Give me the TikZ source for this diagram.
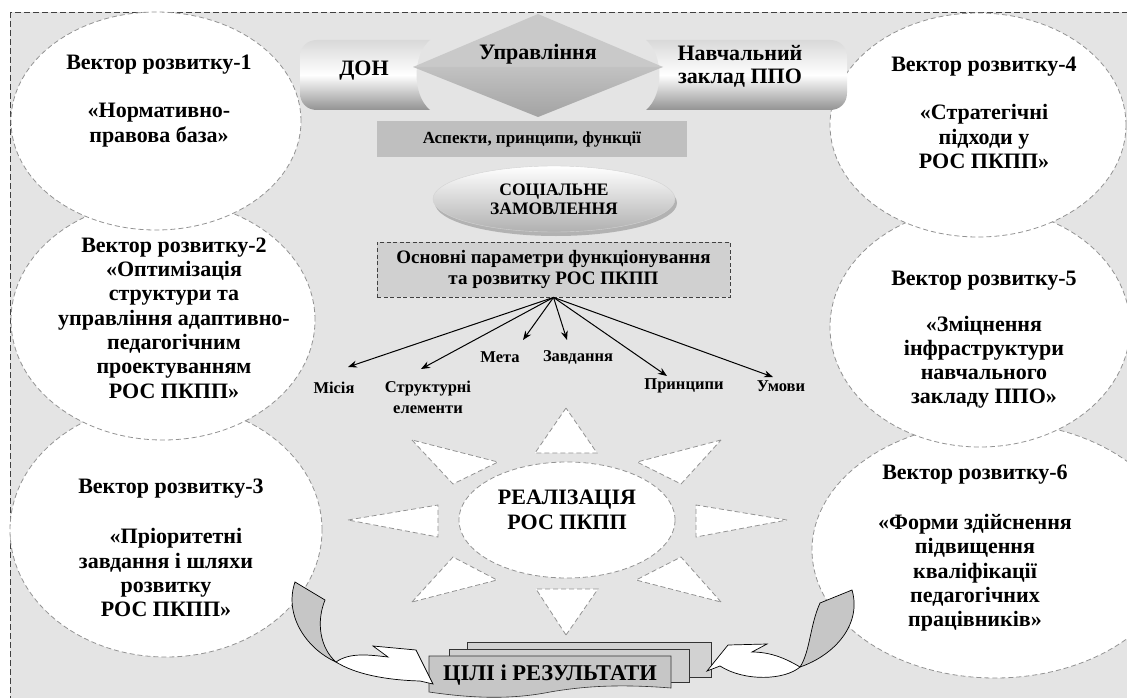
\documentclass[tikz,border=0pt]{standalone}
\usepackage{fontspec}
\setmainfont{Liberation Serif}
\usetikzlibrary{shapes.geometric,arrows.meta}
\definecolor{bg}{HTML}{E4E4E4}
\begin{document}
\begin{tikzpicture}[x=1pt,y=-1pt,
  vec/.style={ellipse, draw=gray!85, fill=white, line width=0.8pt, dash pattern=on 5pt off 3pt, inner sep=0pt},
  vtxt/.style={font=\fontsize{22}{24.3}\selectfont\bfseries, align=center, inner sep=0pt},
  btxt/.style={font=\fontsize{22}{23}\selectfont\bfseries, align=center, inner sep=0pt},
  lbl/.style={font=\fontsize{16.5}{21}\selectfont\bfseries, align=center, inner sep=0pt},
  arr/.style={-{Stealth[length=9pt,width=7pt]}, line width=1pt, black},
  tri/.style={draw=gray!85, fill=white, line width=0.8pt, dash pattern=on 5pt off 3pt},
  docst/.style={draw=black!80, line width=0.6pt},
  ribbon/.style={draw=black, line width=0.7pt, fill=white},
  curl/.style={draw=black, line width=0.7pt, fill=gray!45},
  pill/.style={top color=gray!30, bottom color=gray!85, middle color=white}
]
\useasboundingbox (0,0) rectangle (1127,698);
\clip (0,0) rectangle (1127,698);
% frame
\draw[fill=bg, draw=black!75, line width=0.8pt, dash pattern=on 6pt off 3pt] (10,12) rectangle (1140,710);

% vector ellipses
\node[vec, minimum width=312pt, minimum height=254pt] (e3) at (166,530) {};
\node[vec, minimum width=304pt, minimum height=240pt] (e2) at (163,320) {};
\node[vec, minimum width=290pt, minimum height=218pt] (e1) at (156,121) {};
\node[vec, minimum width=366pt, minimum height=256pt] (e6) at (995,550) {};
\node[vec, minimum width=300pt, minimum height=240pt] (e5) at (980,327) {};
\node[vec, minimum width=296pt, minimum height=224pt] (e4) at (978,125) {};

\node[vtxt] (t1) at (159,101) {Вектор розвитку-1\\[24pt]«Нормативно-\\правова база»};
\node[vtxt] (t2) at (174,318) {Вектор розвитку-2\\«Оптимізація\\структури та\\управління адаптивно-\\педагогічним\\проектуванням\\РОС ПКПП»};
\node[vtxt] (t3) at (166,548) {\hspace*{10pt}Вектор розвитку-3\\[26pt]\hspace*{20pt}«Пріоритетні\\завдання і шляхи\hspace*{14pt}\\розвитку\hspace*{26pt}\\РОС ПКПП»};
\node[vtxt] (t4) at (984,113) {Вектор розвитку-4\\[24pt]«Стратегічні\\підходи у\\РОС ПКПП»};
\node[vtxt] (t5) at (984,340) {Вектор розвитку-5\\[21pt]«Зміцнення\\інфраструктури\\навчального\\закладу ППО»};
\node[vtxt] (t6) at (975,548) {Вектор розвитку-6\\[26pt]«Форми здійснення\\підвищення\\кваліфікації\\педагогічних\\працівників»};

% top banner
\shade[pill] (430,40) -- (317,40) .. controls (307,40) and (300,47) .. (300,57) -- (300,93) .. controls (300,103) and (307,110) .. (317,110) -- (430,110) .. controls (412,95) and (412,55) .. (430,40) -- cycle;
\shade[pill] (646,40) -- (830,40) .. controls (840,40) and (847,47) .. (847,57) -- (847,93) .. controls (847,103) and (840,110) .. (830,110) -- (646,110) .. controls (664,95) and (664,55) .. (646,40) -- cycle;
\fill[gray!42] (413,67) -- (538,14) -- (663,67) -- cycle;
\shade[top color=gray!48, bottom color=gray!72] (413,67) -- (663,67) -- (538,117) -- cycle;
\node[btxt] (don) at (364,71) {ДОН};
\node[btxt] (upr) at (538,54) {Управління};
\node[btxt] (nzp) at (740,66) {Навчальний\\заклад ППО};

\node[fill=gray!50, minimum width=310pt, minimum height=36pt, inner sep=0pt, font=\fontsize{17}{20}\selectfont\bfseries] (asp) at (532,139) {Аспекти, принципи, функції};

% social order
\fill[gray!60] (556,203) ellipse [x radius=121, y radius=33];
\node[ellipse, minimum width=242pt, minimum height=66pt, inner sep=0pt, draw=gray!35, top color=white, bottom color=gray!62, align=center, font=\fontsize{17.5}{19}\selectfont\bfseries] (soc) at (554,199) {СОЦІАЛЬНЕ\\ЗАМОВЛЕННЯ};

% parameters
\node[draw=black!75, dash pattern=on 4pt off 2.5pt, line width=0.8pt, fill=gray!37, minimum width=353pt, minimum height=55pt, inner sep=0pt, align=center, font=\fontsize{19}{21}\selectfont\bfseries] (par) at (553.5,269.5) {Основні параметри функціонування\\та розвитку РОС ПКПП};

\coordinate (am) at (348,367);
\coordinate (as) at (421,369);
\coordinate (amt) at (523,340);
\coordinate (az) at (567,340);
\coordinate (ap) at (667,376);
\coordinate (au) at (773,377);
\foreach \t in {am,as,amt,az,ap,au} \draw[arr] (par.south) -- (\t);
\node[lbl] (lm) at (334,388) {Місія};
\node[lbl] (ls) at (428,397) {Структурні\\елементи};
\node[lbl] (lmt) at (500,357) {Мета};
\node[lbl] (lz) at (578,357) {Завдання};
\node[lbl] (lp) at (684,386) {Принципи};
\node[lbl] (lu) at (781,386) {Умови};

% sun
\draw[tri] (566,408) -- (535,453) -- (597,453) -- cycle;
\draw[tri] (721,440) -- (637,462) -- (681,484) -- cycle;
\draw[tri] (787,520) -- (696,505) -- (696,537) -- cycle;
\draw[tri] (721,602) -- (681,557) -- (636,580) -- cycle;
\draw[tri] (566,635) -- (536,589) -- (598,589) -- cycle;
\draw[tri] (412,602) -- (453,557) -- (497,580) -- cycle;
\draw[tri] (348,520) -- (438,505) -- (438,537) -- cycle;
\draw[tri] (412,440) -- (453,484) -- (498,462) -- cycle;
\node[vec, minimum width=216pt, minimum height=116pt] (sun) at (567,520) {};
\node[font=\fontsize{22}{25}\selectfont\bfseries, align=center, inner sep=0pt] (sunt) at (567,510) {РЕАЛІЗАЦІЯ\\РОС ПКПП};

% goal documents
\draw[docst, fill=gray!35] (467,642) -- (711,642) -- (711,677) -- (467,677) -- cycle;
\draw[docst, fill=gray!38] (449,649) -- (689,649) -- (689,682) -- (449,682) -- cycle;
\draw[docst, fill=gray!45] (429,656) -- (671,656) -- (671,688) .. controls (620,684) and (585,686) .. (550,692) .. controls (510,700) and (470,698) .. (429,692) -- cycle;
\node[font=\fontsize{22.5}{24}\selectfont\bfseries, inner sep=0pt] (goal) at (550,675) {ЦІЛІ і РЕЗУЛЬТАТИ};

% curled arrows
\draw[curl] (295,582) -- (325,600) .. controls (316,622) and (320,648) .. (336,662) .. controls (305,648) and (284,614) .. (295,582) -- cycle;
\draw[ribbon] (336,662) .. controls (350,652) and (370,655) .. (388,657) -- (373,646) -- (416,650) -- (433,684) -- (420,681) .. controls (385,680) and (355,674) .. (336,662) -- cycle;
\draw[curl] (852,590) -- (820,603) .. controls (810,625) and (810,652) .. (800,667) .. controls (835,655) and (862,624) .. (852,590) -- cycle;
\draw[ribbon] (800,667) .. controls (785,658) and (770,652) .. (752,652) -- (767,644) -- (728,645) -- (707,671) -- (720,666) .. controls (745,682) and (785,680) .. (800,667) -- cycle;
\end{tikzpicture}
\end{document}
